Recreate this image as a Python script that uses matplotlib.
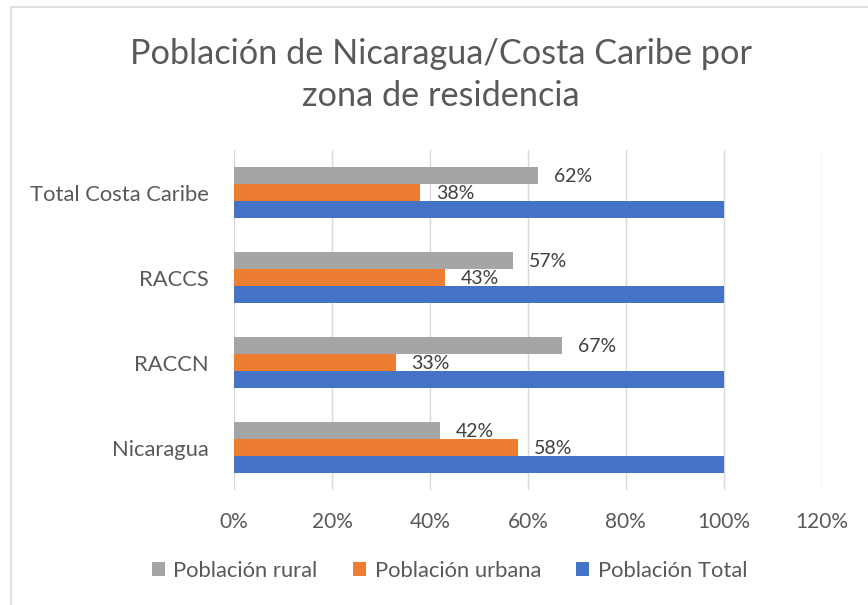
import numpy as np
import matplotlib.pyplot as plt
from matplotlib.patches import Rectangle

plt.rcParams['font.family'] = ['Lato', 'DejaVu Sans']

categorias = ['Nicaragua', 'RACCN', 'RACCS', 'Total Costa Caribe']
rural = [42, 67, 57, 62]
urbana = [58, 33, 43, 38]
total = [100, 100, 100, 100]
ticks = [0, 20, 40, 60, 80, 100, 120]

gris = '#595959'
fig = plt.figure(figsize=(8.68, 6.05), dpi=100)
ax = fig.add_axes([0.2696, 0.19, 0.677, 0.562])

y = np.arange(len(categorias))
h = 0.2
b_r = ax.barh(y + h, rural, height=h, color='#A5A5A5', label='Población rural')
b_u = ax.barh(y, urbana, height=h, color='#ED7D31', label='Población urbana')
b_t = ax.barh(y - h, total, height=h, color='#4472C4', label='Población Total')

for bars, vals in [(b_r, rural), (b_u, urbana)]:
    for bar, v in zip(bars, vals):
        ax.annotate(f'{v}%', (v, bar.get_y() + bar.get_height() / 2),
                    xytext=(11.5, -1), textcoords='offset points',
                    ha='left', va='center', fontsize=14, color='#404040')

ax.set_xlim(0, 120)
ax.set_ylim(-0.5, 3.5)
ax.set_xticks(ticks)
ax.set_xticklabels([f'{t}%' for t in ticks])
ax.set_yticks(y)
ax.set_yticklabels(categorias)
ax.tick_params(axis='x', length=0, pad=16, labelsize=15, labelcolor=gris)
ax.tick_params(axis='y', length=0, pad=18, labelsize=15.8, labelcolor=gris)
ax.grid(axis='x', color='#d9d9d9', linewidth=1)
ax.set_axisbelow(True)
for s in ax.spines.values():
    s.set_visible(False)

fig.text(0.508, 0.876, 'Población de Nicaragua/Costa Caribe por\nzona de residencia',
         ha='center', va='center', fontsize=24.7, color=gris, linespacing=1.35)

ax.legend(loc='center', bbox_to_anchor=(0.518, 0.057),
          bbox_transform=fig.transFigure, ncol=3, frameon=False,
          fontsize=15.8, labelcolor=gris, handlelength=0.6, handleheight=0.6,
          handletextpad=0.4, columnspacing=1.6)

fig.patches.append(Rectangle((11 / 868, -0.1), 1.2, 1 - 7 / 605 + 0.1,
                             transform=fig.transFigure, fill=False,
                             edgecolor='#d9d9d9', linewidth=1.2))

fig.savefig('out.png', dpi=100)
